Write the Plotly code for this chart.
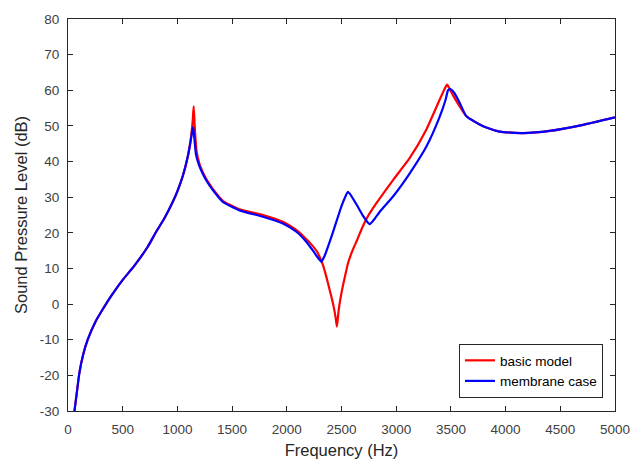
import plotly.graph_objects as go

# Basic model (red)
freq_basic = [55, 80, 104, 140, 180, 250, 315, 400, 500, 600, 729, 806, 880, 958, 1004, 1050, 1095,
              1125, 1140, 1149, 1158, 1175, 1200, 1232, 1270, 1324, 1415, 1568, 1782, 1964, 2087, 2155,
              2220, 2277, 2330, 2361, 2400, 2422, 2445, 2458, 2475, 2499, 2530, 2559, 2600, 2643,
              2690, 2735, 2819, 2971, 3124, 3276, 3398, 3440, 3465, 3490, 3530, 3580, 3642, 3795,
              3947, 4160, 4404, 4709, 5000]
spl_basic = [-31, -25, -19.3, -14, -10, -5, -1.6, 2.5, 6.8, 10.5, 16.1, 20.3, 24, 28.7, 32, 36, 41.4,
             47, 51.5, 55.5, 50, 43, 39.5, 37, 34.8, 32.3, 29, 26.6, 25, 23.1, 20.8, 18.9,
             16.9, 14.7, 11, 7.7, 3, 0.2, -3.5, -6.3, -1.5, 3, 7.5, 11.4, 15, 18,
             21.5, 24.3, 28.3, 34.8, 41, 49, 57.4, 60.2, 61.6, 60.3, 58, 55.5, 52.7, 49.9,
             48.4, 48, 48.6, 50.3, 52.4]

# Membrane case (blue)
freq_membrane = [55, 80, 104, 140, 180, 250, 315, 400, 500, 600, 729, 806, 880, 958, 1004, 1050, 1095,
                 1120, 1135, 1143, 1152, 1170, 1200, 1232, 1270, 1324, 1415, 1568, 1782, 1964, 2087,
                 2178, 2246, 2290, 2316, 2345, 2420, 2500, 2540, 2559, 2585, 2640, 2700, 2740, 2758,
                 2800, 2857, 2971, 3124, 3276, 3398, 3450, 3474, 3492, 3530, 3580, 3642, 3795,
                 3947, 4160, 4404, 4709, 5000]
spl_membrane = [-31, -25, -19.3, -14, -10, -5, -1.6, 2.5, 6.8, 10.5, 16.1, 20.3, 24, 28.7, 32, 36, 41.4,
                45.5, 48.5, 49.7, 47.5, 42, 38.8, 36.6, 34.4, 32, 28.7, 26.3, 24.5, 22.6, 20.3,
                17.5, 14.7, 12.8, 11.9, 13.5, 20, 27.5, 30.5, 31.5, 30.6, 27.8, 24.6, 22.9, 22.4,
                23.8, 26.2, 30.2, 36.7, 44.2, 52.6, 57.2, 60, 60.3, 59.3, 56.5, 52.7, 49.9,
                48.4, 48, 48.6, 50.3, 52.4]

x_ticks = [0, 500, 1000, 1500, 2000, 2500, 3000, 3500, 4000, 4500, 5000]
y_ticks = [-30, -20, -10, 0, 10, 20, 30, 40, 50, 60, 70, 80]

FONT = "Liberation Sans, Arial, Helvetica, sans-serif"

fig = go.Figure()
fig.add_trace(go.Scatter(x=freq_basic, y=spl_basic, mode="lines", name="basic model",
                         line=dict(color="#ff0000", width=2.2, shape="spline", smoothing=0.5)))
fig.add_trace(go.Scatter(x=freq_membrane, y=spl_membrane, mode="lines", name="membrane case",
                         line=dict(color="#0000ff", width=2.2, shape="spline", smoothing=0.5)))

axis_common = dict(showgrid=False, zeroline=False, showline=True, linecolor="#262626", linewidth=1,
                   mirror="ticks", ticks="inside", ticklen=5, tickcolor="#262626", automargin=False,
                   tickfont=dict(family=FONT, size=13.5, color="#404040"))

fig.update_xaxes(range=[0, 5000], tickvals=x_ticks, ticktext=[str(v) for v in x_ticks],
                 ticklabelstandoff=6,
                 title=dict(text="Frequency (Hz)", font=dict(family=FONT, size=16.5, color="#262626"),
                            standoff=9),
                 **axis_common)
fig.update_yaxes(range=[-30, 80], tickvals=y_ticks, ticktext=[str(v) for v in y_ticks],
                 ticklabelstandoff=5,
                 title=dict(text="Sound Pressure Level (dB)",
                            font=dict(family=FONT, size=16.5, color="#262626"),
                            standoff=8),
                 **axis_common)

fig.update_layout(
    width=636, height=459,
    margin=dict(l=68, r=21, t=19, b=48),
    plot_bgcolor="white", paper_bgcolor="white",
    showlegend=True,
    legend=dict(x=0.978, y=0.033, xanchor="right", yanchor="bottom",
                bordercolor="#262626", borderwidth=1, bgcolor="white",
                font=dict(family=FONT, size=13.5, color="#000000"),
                tracegroupgap=0, itemwidth=30),
)

fig.write_html("out.html")
